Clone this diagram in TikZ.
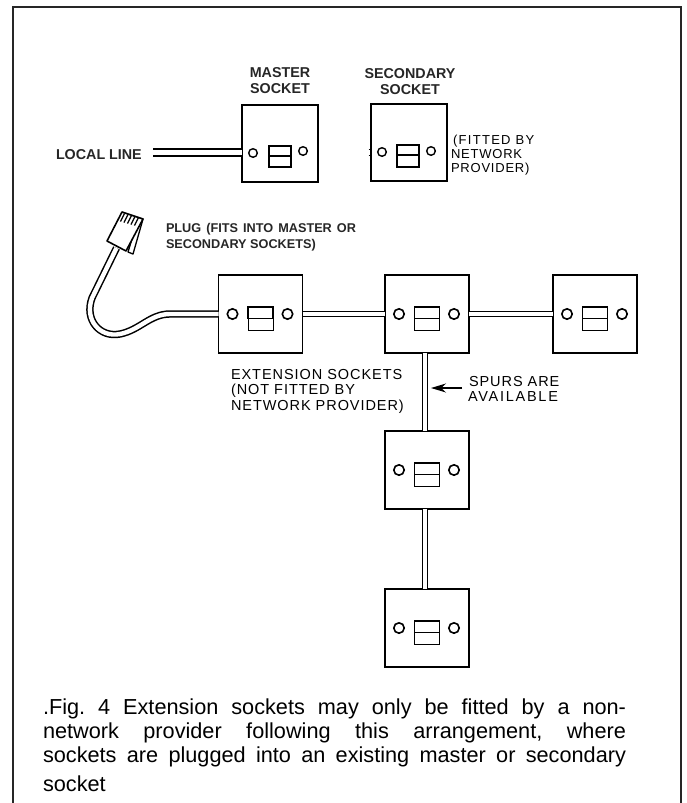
\documentclass[tikz,border=0pt]{standalone}
\usepackage{fontspec}
\setmainfont{Liberation Sans}
\usetikzlibrary{arrows.meta}
\newcommand{\caphb}[1]{\hbox to 583pt{#1}}
\tikzset{
  x=1pt,y=-1pt,
  frameline/.style={draw=black!85,line width=2.4pt},
  boxthick/.style={rectangle,draw=black,line width=2pt,fill=white,inner sep=0,outer sep=0,minimum width=76pt,minimum height=77pt},
  boxext/.style={rectangle,draw=black,line width=1.7pt,fill=white,inner sep=0,outer sep=0,minimum width=84pt,minimum height=78pt},
  wire/.style={draw=black,line width=1.8pt,double=white,double distance=3.2pt},
  wirewide/.style={draw=black,line width=2pt,double=white,double distance=4.4pt},
  holesm/.style={draw=black,line width=1.4pt,fill=white},
  slotthin/.style={draw=black,line width=1.2pt},
  boldlab/.style={inner sep=0,outer sep=0,text=black!85,font=\fontsize{14.3}{16}\selectfont\bfseries,anchor=base},
  pluglab/.style={inner sep=0,outer sep=0,text=black!85,font=\fontsize{12.7}{15}\selectfont\bfseries,anchor=base west},
  widelab/.style={inner sep=0,outer sep=0,text=black,font=\fontsize{14.5}{15}\selectfont\addfontfeature{LetterSpace=6.5},anchor=base west},
  caplab/.style={inner sep=0,outer sep=0,text=black,font=\fontsize{21.7}{22}\selectfont,anchor=base west},
}
\begin{document}
\begin{tikzpicture}
\useasboundingbox (0,0) rectangle (686,803);
\draw[frameline] (13,803) -- (13,7) -- (681,7) -- (681,803);

% top sockets
\coordinate (ll) at (153,152.5);
\node[boxthick] (master) at (280,143.5) {};
\node[boxthick] (secondary) at (409,142) {};
\draw[wirewide] (ll) -- (ll -| master.west);
\draw[holesm] (253,153) circle (4.3);
\draw[holesm] (303,151) circle (4.3);
\draw[slotthin] (269,146) rectangle (291,167);
\draw[slotthin] (269,156) -- (291,156);
\draw[holesm] (382,152) circle (4.3);
\draw[holesm] (431,151) circle (4.3);
\draw[slotthin] (397,145) rectangle (419,167);
\draw[slotthin] (397,155) -- (419,155);
\draw[line width=1.5pt] (368.5,149.5) -- (370,149.5) (368.5,155.5) -- (370,155.5);

\node[boldlab] (l1) at (280,77) {MASTER};
\node[boldlab] (l2) at (280,93) {SOCKET};
\node[boldlab] (l3) at (410,78) {SECONDARY};
\node[boldlab] (l4) at (410,94) {SOCKET};
\node[boldlab,anchor=base west] (l5) at (56,159) {LOCAL LINE};
\node[widelab,font=\fontsize{13}{14}\selectfont\addfontfeature{LetterSpace=10}] (l6) at (453,144) {(FITTED BY};
\node[widelab,font=\fontsize{13}{14}\selectfont\addfontfeature{LetterSpace=6}] (l7) at (451,158) {NETWORK};
\node[widelab,font=\fontsize{13}{14}\selectfont\addfontfeature{LetterSpace=6}] (l8) at (451,172) {PROVIDER)};

% extension sockets
\foreach \n/\cx/\cy in {e1/260.5/314,e2/427/314,e3/595/314,e4/427/470,e5/427/628}{
  \node[boxext] (\n) at (\cx,\cy) {};
  \draw[holesm,line width=1.6pt] (\cx-28,\cy) circle (5.2);
  \draw[holesm,line width=1.6pt] (\cx+27,\cy) circle (5.2);
  \draw[slotthin,line width=.8pt] (\cx-12.5,\cy-7) rectangle (\cx+12.5,\cy+16);
  \draw[line width=1.6pt] (\cx-12.5,\cy+4.5) -- (\cx-12.5,\cy-7) -- (\cx+12.5,\cy-7) -- (\cx+12.5,\cy+4.5) -- cycle;
}
\draw[wire] (e1.east) -- (e2.west);
\draw[wire] (e2.east) -- (e3.west);
\draw[wire] ([xshift=-2pt]e2.south) -- ([xshift=-2pt]e4.north);
\draw[wire] ([xshift=-2pt]e4.south) -- ([xshift=-2pt]e5.north);

% plug and cable
\coordinate (plugend) at (116.5,248);
\draw[wire,line width=1.5pt,double distance=4.4pt] (e1.west) -- (170,314) .. controls (150,314) and (140,330) .. (120,334)
   .. controls (100,338) and (84,320) .. (92,298) -- (plugend);
\filldraw[fill=white,draw=black,line width=1.3pt,line join=round] (143,219) -- (133,254) -- (128,252) -- (136,226) -- cycle;
\filldraw[fill=white,draw=black,line width=1.6pt,line join=round] (122,212) -- (143,219) -- (126,251) -- (107,241) -- cycle;
\foreach \a in {0,1,2,3,4}{
  \draw[line width=1.2pt] (124.5+3.5*\a,213.5+1*\a) -- (120.5+3.5*\a,221.5+1*\a);
}

\node[pluglab] (p1) at (166,232) {\hbox to 190pt{PLUG\hfill(FITS\hfill INTO\hfill MASTER\hfill OR}};
\node[pluglab] (p2) at (166,248) {SECONDARY SOCKETS)};

\node[widelab] (x1) at (231,379) {EXTENSION SOCKETS};
\node[widelab] (x2) at (231,394) {(NOT FITTED BY};
\node[widelab] (x3) at (231,410) {NETWORK PROVIDER)};

\node[widelab] (s1) at (469,386) {SPURS ARE};
\node[widelab,font=\fontsize{14.5}{15}\selectfont\addfontfeature{LetterSpace=12}] (s2) at (468,401) {AVAILABLE};
\coordinate (arrfrom) at (462,388);
\coordinate (arrto) at (431,388);
\draw[line width=1.2pt,-{Stealth[length=15pt,width=9pt]}] (arrfrom) -- (arrto);

% caption
\node[caplab] (c1) at (43,714) {\caphb{.Fig.\hfill 4\hfill Extension\hfill sockets\hfill may\hfill only\hfill be\hfill fitted\hfill by\hfill a\hfill non-}};
\node[caplab] (c2) at (43,738) {\caphb{network\hfill provider\hfill following\hfill this\hfill arrangement,\hfill where}};
\node[caplab] (c3) at (43,762) {\caphb{sockets\hfill are\hfill plugged\hfill into\hfill an\hfill existing\hfill master\hfill or\hfill secondary}};
\node[caplab] (c4) at (43,791) {socket};
\end{tikzpicture}
\end{document}
